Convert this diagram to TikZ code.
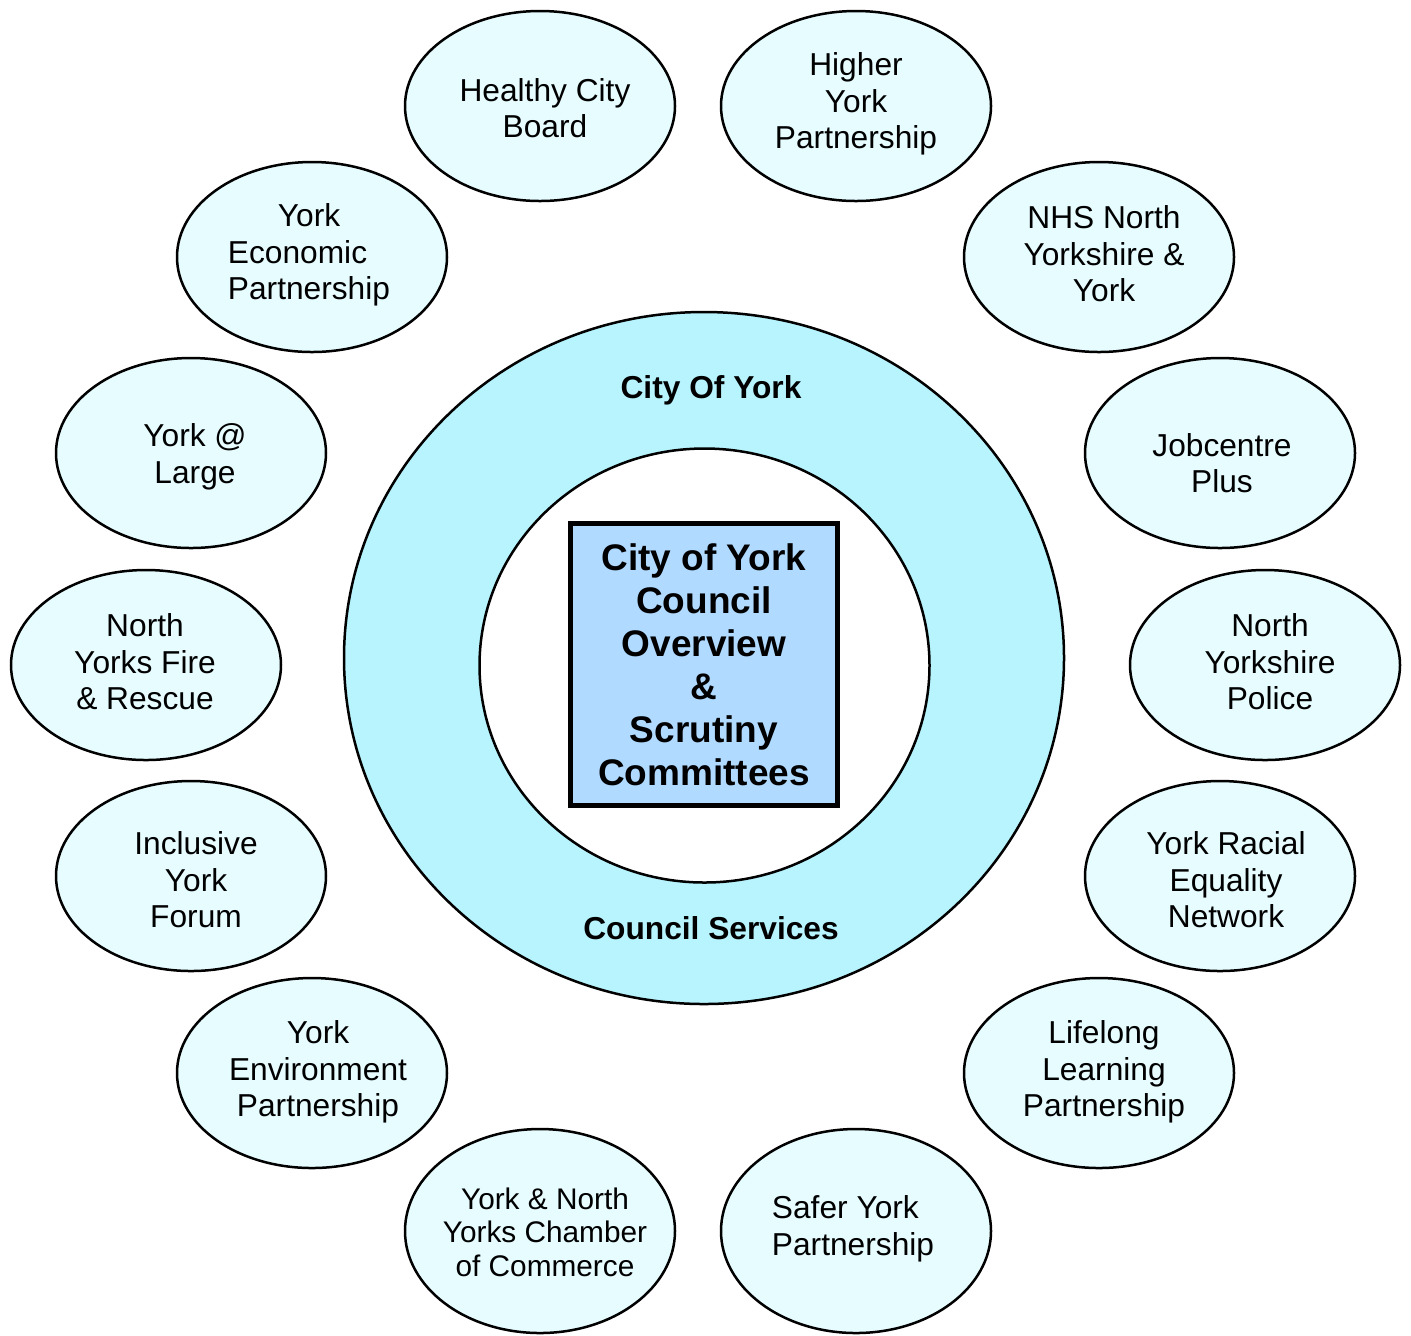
\documentclass[tikz,border=0pt]{standalone}
\usepackage{fontspec}
\setmainfont{Liberation Sans}
\usepackage{xcolor}
\usepackage{tikz}
\usetikzlibrary{shapes.geometric}
\usetikzlibrary{positioning}

\definecolor{partnerfill}{HTML}{E6FCFF}
\definecolor{ringfill}{HTML}{B8F4FE}
\definecolor{boxfill}{HTML}{B0DAFF}

\begin{document}
\begin{tikzpicture}[x=0.5pt, y=-0.5pt,
    partner/.style={ellipse, draw, line width=1.25pt, fill=partnerfill,
      minimum width=135pt, minimum height=95pt, inner sep=0pt},
    partnerlow/.style={partner, minimum height=102pt},
    partnertext/.style={align=center, inner sep=0pt,
      font=\fontsize{15.85pt}{18.3pt}\selectfont},
    ringtext/.style={inner sep=0pt,
      font=\fontsize{15.85pt}{18.3pt}\selectfont\bfseries},
    committee/.style={rectangle, draw, line width=2.5pt, fill=boxfill,
      minimum width=133.5pt, minimum height=141pt, inner sep=0pt,
      align=center, font=\fontsize{18.5pt}{21.5pt}\selectfont\bfseries}]

    \useasboundingbox (0, 0) rectangle (1411, 1335);

    % council ring
    \draw [line width=1.25pt, fill=ringfill] (704, 658)
      ellipse [x radius=360, y radius=346];
    \draw [line width=1.25pt, fill=white] (704.5, 665.5)
      ellipse [x radius=225, y radius=217];
    \node [ringtext] (city) at (711, 390) {City Of York};
    \node [ringtext] (services) at (711, 928) {Council Services};
    \node [committee] (osc) at (704, 664.5)
      {City of York\\Council\\Overview\\\&\\Scrutiny\\Committees};

    % partnerships round the ring
    \foreach \ex/\ey/\tx/\ty/\nm/\txt in {
        540/106/545/108/hcb/{Healthy City\\Board},
        856/106/856/104/hyp/{Higher\\York\\Partnership},
        1099/257/1104/254/nhs/{NHS North\\Yorkshire \&\\York},
        1220/453/1222/463/jcp/{Jobcentre\\Plus},
        1265/665/1270/662/nyp/{North\\Yorkshire\\Police},
        1220/876/1226/880/yren/{York Racial\\Equality\\Network},
        1099/1073/1104/1072/llp/{Lifelong\\Learning\\Partnership},
        312/1073/318/1072/yenv/{York\\Environment\\Partnership},
        191/876/196/880/iyf/{Inclusive\\York\\Forum},
        146/665/145/662/nyfr/{North\\Yorks Fire\\\& Rescue},
        191/453/195/457/yal/{York @\\Large}} {
      \node [partner] (\nm) at (\ex, \ey) {};
      \node [partnertext] (\nm-t) at (\tx, \ty) {\txt};
    }
    \node [partner] (yep) at (312, 257) {};
    \node [partnertext, align=left] (yep-t) at (309, 255)
      {\hspace*{25pt}York\\Economic\\Partnership}; % indented first line
    \node [partnerlow] (syp) at (856, 1231) {};
    \node [partnertext, align=left] (syp-t) at (853, 1229)
      {Safer York\\Partnership};
    \node [partnerlow] (ync) at (540, 1231) {};
    \node [partnertext, font=\fontsize{14.9pt}{16.8pt}\selectfont]
      (ync-t) at (545, 1232) {York \& North\\Yorks Chamber\\of Commerce};

\end{tikzpicture}
\end{document}
